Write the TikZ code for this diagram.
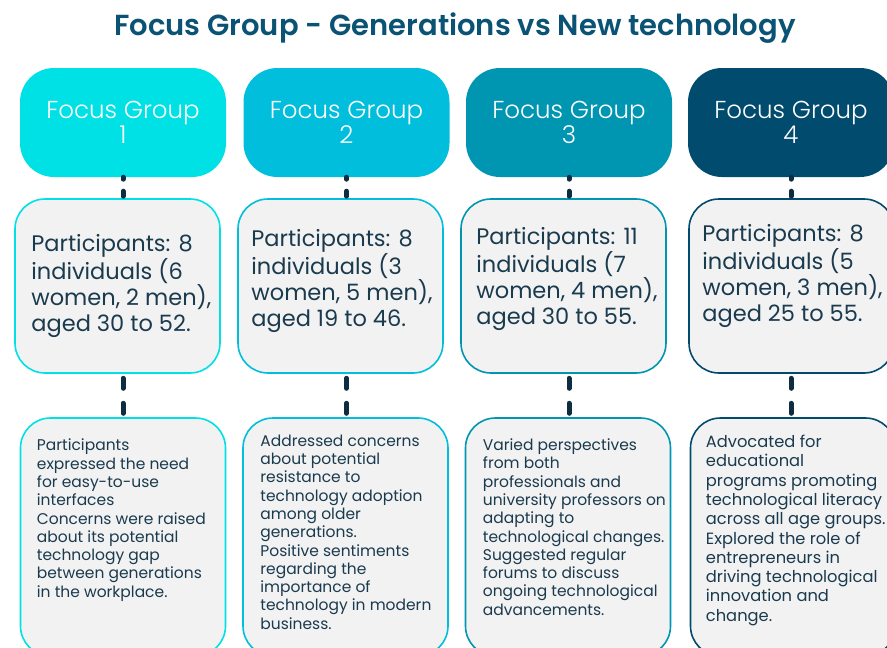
\documentclass[tikz,border=0pt]{standalone}
\usepackage{fontspec}
\setmainfont{Poppins}[BoldFont={Poppins SemiBold}]
\newfontfamily\thinfont{Poppins Light}
\definecolor{fgone}{HTML}{00E1E6}
\definecolor{fgtwo}{HTML}{00BEDC}
\definecolor{fgthree}{HTML}{0096B2}
\definecolor{fgfour}{HTML}{004B6E}
\definecolor{boxfill}{HTML}{F2F2F2}
\definecolor{ink}{HTML}{1A3A4E}
\definecolor{titleteal}{HTML}{0A5374}
\definecolor{linknavy}{HTML}{0F2D40}

\begin{document}
\begin{tikzpicture}[
        x=1pt, y=-1pt,
        head/.style={rounded corners=34pt, minimum width=206pt, minimum height=109pt,
            inner sep=0pt, text=white, align=center, font=\thinfont\fontsize{24.5}{22}\selectfont},
        count/.style={rounded corners=30pt, fill=boxfill, line width=1.6pt,
            minimum width=205pt, minimum height=174pt},
        note/.style={rounded corners=30pt, fill=boxfill, line width=1.6pt,
            minimum width=205pt, minimum height=238pt},
        %% base anchor sits on the last line
        counttxt/.style={inner sep=0pt, anchor=base west, align=left, text=ink,
            font=\fontsize{22.5}{26}\selectfont},
        notetxt/.style={inner sep=0pt, anchor=base west, align=left, text=ink,
            font=\fontsize{15.5}{18.3}\selectfont},
        link/.style={draw=linknavy, line width=5pt, line cap=round},
    ]
    \clip (0,0) rectangle (887,648);
    \fill[white] (0,0) rectangle (887,648);

    \node[text=titleteal, font=\bfseries\fontsize{29}{30}\selectfont] (title) at (455,28)
        {Focus Group - Generations vs New technology};

    %% one column per group: header, head count, findings
    \foreach \i/\hx/\mx/\nx/\col in {1/123/117.5/123/fgone, 2/346.5/340.5/345.5/fgtwo,
            3/569/563.5/568/fgthree, 4/791/791.5/793/fgfour}{
        \node[head, fill=\col] (h\i) at (\hx,122.5) {Focus Group\\\i};
        \node[count, draw=\col] (m\i) at (\mx,286) {};
        \node[note, draw=\col] (n\i) at (\nx,537) {};
        \draw[link, dash pattern=on 5pt off 12pt, dash phase=3pt] (h\i.south) -- (h\i.south |- m\i.north);
        \draw[link, dash pattern=on 10pt off 15pt, dash phase=20.5pt] (h\i.south |- m\i.south) -- (h\i.south |- n\i.north);
    }

    \node[counttxt] (c1) at ([shift={(17,133)}]m1.north west)
        {Participants: 8\\individuals (6\\women, 2 men),\\aged 30 to 52.};
    \node[counttxt] (c2) at ([shift={(14,128)}]m2.north west)
        {Participants: 8\\individuals (3\\women, 5 men),\\aged 19 to 46.};
    \node[counttxt] (c3) at ([shift={(16,126)}]m3.north west)
        {Participants: 11\\individuals (7\\women, 4 men),\\aged 30 to 55.};
    \node[counttxt] (c4) at ([shift={(14,123)}]m4.north west)
        {Participants: 8\\individuals (5\\women, 3 men),\\aged 25 to 55.};

    \node[notetxt] (f1) at ([shift={(17,180)}]n1.north west)
        {Participants\\expressed the need\\for easy-to-use\\interfaces\\Concerns were raised\\
        about its potential\\technology gap\\between generations\\in the workplace.};
    \node[notetxt] (f2) at ([shift={(18,212)}]n2.north west)
        {Addressed concerns\\about potential\\resistance to\\technology adoption\\among older\\
        generations.\\Positive sentiments\\regarding the\\importance of\\technology in modern\\business.};
    \node[notetxt] (f3) at ([shift={(18,198)}]n3.north west)
        {Varied perspectives\\from both\\professionals and\\university professors on\\adapting to\\
        technological changes.\\Suggested regular\\forums to discuss\\ongoing technological\\advancements.};
    \node[notetxt, font=\fontsize{16.3}{19.3}\selectfont] (f4) at ([shift={(16,204)}]n4.north west)
        {Advocated for\\educational\\programs promoting\\technological literacy\\across all age groups.\\
        Explored the role of\\entrepreneurs in\\driving technological\\innovation and\\change.};
\end{tikzpicture}
\end{document}
